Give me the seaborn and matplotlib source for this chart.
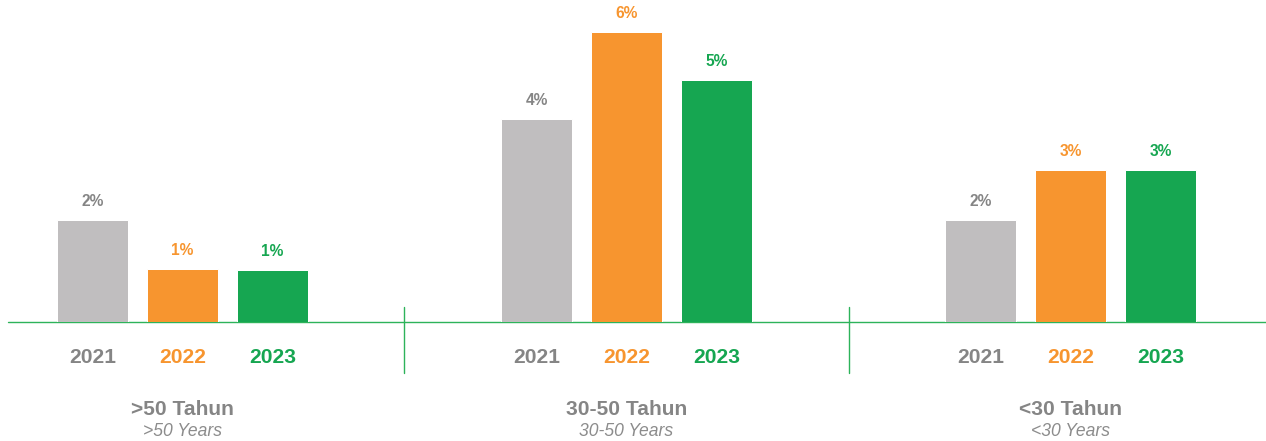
import matplotlib
matplotlib.use("Agg")
import matplotlib.pyplot as plt
from matplotlib.lines import Line2D
import seaborn as sns
import pandas as pd

# Age groups and their labels
groups_id = [">50 Tahun", "30-50 Tahun", "<30 Tahun"]
groups_en = [">50 Years", "30-50 Years", "<30 Years"]
years = ["2021", "2022", "2023"]

# Turnover rate (%) per age group, one list per year
rate_2021 = [2.02, 4.02, 2.02]
rate_2022 = [1.05, 5.74, 3.01]
rate_2023 = [1.03, 4.79, 3.01]

bar_colors = {"2021": "#C0BEBF", "2022": "#F7952F", "2023": "#16A651"}
text_colors = {"2021": "#858585", "2022": "#F7952F", "2023": "#16A651"}
line_green = "#2DB35A"
title_grey = "#858585"

rows = []
for gi, g in enumerate(groups_id):
    for y, vals in zip(years, [rate_2021, rate_2022, rate_2023]):
        rows.append({"group": g, "year": y, "value": vals[gi]})
df = pd.DataFrame(rows)

sns.set_theme(style="white")
plt.rcParams["font.family"] = ["Liberation Sans", "DejaVu Sans"]

W, H, DPI = 1266, 441, 72
fig = plt.figure(figsize=(W / DPI, H / DPI), dpi=DPI)

# panel geometry in pixels
base_px = 322          # baseline position from top
unit_px = 90           # distance between neighbouring bars
px_per_pct = 50.6      # vertical scale
panel_edges = [8, 404, 849, W]
centers = [182.5, 626.5, 1070.5]

axes = []
for gi, g in enumerate(groups_id):
    left, right = panel_edges[gi], panel_edges[gi + 1]
    ax = fig.add_axes([left / W, (H - base_px) / H, (right - left) / W, base_px / H])
    sub = df[df["group"] == g]
    sns.barplot(data=sub, x="year", y="value", hue="year", order=years,
                hue_order=years, palette=bar_colors, width=71 / 90,
                legend=False, saturation=1, ax=ax)
    c = centers[gi]
    ax.set_xlim(1 - (c - left) / unit_px, 1 + (right - c) / unit_px)
    ax.set_ylim(0, base_px / px_per_pct)
    ax.axis("off")
    ax.axhline(0, color=line_green, lw=1.4, clip_on=False, zorder=0)

    for i, y in enumerate(years):
        v = sub.loc[sub["year"] == y, "value"].iloc[0]
        ax.annotate(f"{v:.0f}%", xy=(i, v), xytext=(0, 14),
                    textcoords="offset points", ha="center", va="baseline",
                    fontsize=15.5, fontweight="bold", color=text_colors[y])
        ax.annotate(y, xy=(i, 0), xytext=(0, -41), textcoords="offset points",
                    ha="center", va="baseline", fontsize=21,
                    fontweight="bold", color=text_colors[y],
                    annotation_clip=False)

    ax.annotate(g, xy=(1, 0), xytext=(0, -93), textcoords="offset points",
                ha="center", va="baseline", fontsize=21, fontweight="bold",
                color=title_grey, annotation_clip=False)
    ax.annotate(groups_en[gi], xy=(1, 0), xytext=(0, -114),
                textcoords="offset points", ha="center", va="baseline",
                fontsize=17.5, fontstyle="italic", color="#8C8C8C",
                annotation_clip=False)
    axes.append(ax)

# vertical separators between the age groups
for xpx in panel_edges[1:3]:
    fig.add_artist(Line2D([xpx / W, xpx / W], [(H - 307) / H, (H - 373) / H],
                          color=line_green, lw=1.4, transform=fig.transFigure))

fig.savefig("out.png", dpi=DPI, facecolor="white")
